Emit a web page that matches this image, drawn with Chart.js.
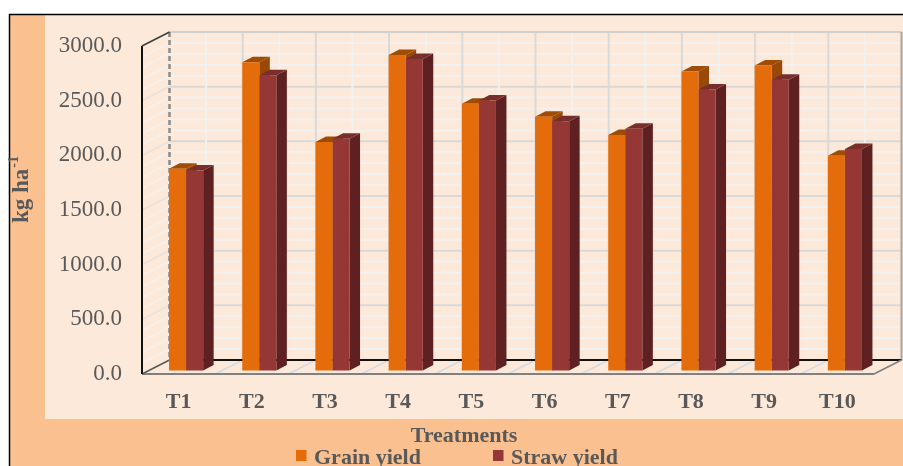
<!DOCTYPE html>
<html>
<head>
<meta charset="utf-8">
<title>Grain and straw yield by treatment</title>
<script src="https://cdn.jsdelivr.net/npm/chart.js@4.4.1/dist/chart.umd.min.js"></script>
<style>
  html, body { margin: 0; padding: 0; background: #ffffff; overflow: hidden; }
  canvas { display: block; }
</style>
</head>
<body>
<canvas id="yieldChart" width="903" height="466"></canvas>
<script>
// Treatments and yields (kg ha-1)
const categories = ['T1', 'T2', 'T3', 'T4', 'T5', 'T6', 'T7', 'T8', 'T9', 'T10'];
const grainYield = [1845, 2820, 2090, 2885, 2440, 2320, 2155, 2735, 2790, 1965];
const strawYield = [1830, 2700, 2120, 2850, 2470, 2280, 2210, 2570, 2660, 2025];
const seriesNames = ['Grain yield', 'Straw yield'];
const yAxisMin = 0;
const yAxisMax = 3000;
const yMajorStep = 500;
const yMinorStep = 100;

const SERIF = "'Liberation Serif', 'Times New Roman', serif";
const TEXT_GREY = '#595959';

// face colours per series: front, side, top
const FACES = [
  { front: '#E46C0A', side: '#9A4806', top: '#A04C05' },
  { front: '#953735', side: '#5F2022', top: '#782F2C' }
];

// geometry of the pseudo-3D box
const BOX_DEPTH = { dx: 27.5, dy: -14 };   // front plane -> back wall
const BAR_SHIFT = { dx: 7.5, dy: -3.5 };   // front plane -> bar front faces
const BAR_DEPTH = { dx: 10.5, dy: -5.5 };  // bar front face -> bar back

function line(ctx, x1, y1, x2, y2, color, width, dash) {
  ctx.save();
  ctx.beginPath();
  ctx.strokeStyle = color;
  ctx.lineWidth = width;
  ctx.setLineDash(dash || []);
  ctx.moveTo(x1, y1);
  ctx.lineTo(x2, y2);
  ctx.stroke();
  ctx.restore();
}

function poly(ctx, pts, color) {
  ctx.beginPath();
  ctx.moveTo(pts[0][0], pts[0][1]);
  for (let i = 1; i < pts.length; i++) ctx.lineTo(pts[i][0], pts[i][1]);
  ctx.closePath();
  ctx.fillStyle = color;
  ctx.fill();
}

const boxPlugin = {
  id: 'box3d',
  beforeDraw(chart) {
    const ctx = chart.ctx;
    const W = chart.width, H = chart.height;
    ctx.save();
    // panel backgrounds
    ctx.fillStyle = '#ffffff';
    ctx.fillRect(0, 0, W, H);
    ctx.fillStyle = '#FAC090';
    ctx.fillRect(10, 15, W - 10, H - 15);
    ctx.fillStyle = '#FDE9D9';
    ctx.fillRect(45, 15, W - 45, 404);
    line(ctx, 9, 14.5, W, 14.5, '#000000', 1.5);
    line(ctx, 9.5, 14, 9.5, H, '#000000', 1.5);

    const a = chart.chartArea;
    const ys = chart.scales.y, xs = chart.scales.x;
    const dx = BOX_DEPTH.dx, dy = BOX_DEPTH.dy;
    const fL = a.left, fR = a.right;
    const bL = fL + dx, bR = fR + dx;
    const y0 = ys.getPixelForValue(yAxisMin);
    const yTop = ys.getPixelForValue(yAxisMax);

    // horizontal grid on back wall and matching lines on the side wall
    for (let v = yAxisMin; v <= yAxisMax; v += yMinorStep) {
      const major = v % yMajorStep === 0;
      const yy = ys.getPixelForValue(v);
      const col = major ? '#D9D9D9' : '#F3F1EF';
      if (v > yAxisMin) {
        line(ctx, bL, yy + dy, bR, yy + dy, col, 2);
        line(ctx, fL, yy, bL, yy + dy, major ? '#E4E1DE' : '#F3F1EF', 1.5);
      }
    }
    // vertical grid on back wall: category centres (minor) and boundaries (major)
    const step = (fR - fL) / categories.length;
    for (let i = 0; i < categories.length; i++) {
      const c = xs.getPixelForValue(i) + dx;
      line(ctx, c, yTop + dy, c, y0 + dy, '#F3F1EF', 2);
    }
    for (let i = 1; i < categories.length; i++) {
      const b = fL + i * step;
      line(ctx, b + dx, yTop + dy, b + dx, y0 + dy, '#D9D9D9', 2);
      // floor lines running back from the front edge
      line(ctx, b, y0, b + dx, y0 + dy, '#D5DAE0', 1.5);
    }
    // wall edges
    line(ctx, bL, yTop + dy, bR, yTop + dy, '#D0D0D0', 2);
    line(ctx, bR, yTop + dy, bR, y0 + dy, '#A6A6A6', 2);
    line(ctx, bL, yTop + dy, bL, y0 + dy, '#8A8A8A', 2.5, [5, 3]);
    line(ctx, bL, y0 + dy, bR, y0 + dy, '#111111', 2);
    // floor front and sides
    line(ctx, fL, y0, fR, y0, '#808080', 2);
    line(ctx, fR, y0, bR, y0 + dy, '#808080', 1.5);
    line(ctx, fL, y0, bL, y0 + dy, '#595959', 1.5);
    // front vertical axis and its top edge
    line(ctx, fL, yTop, fL, y0, '#111111', 2);
    line(ctx, fL, yTop, bL, yTop + dy, '#404040', 1.5);
    ctx.restore();
  },
  beforeDatasetsDraw(chart) {
    const ctx = chart.ctx;
    ctx.save();
    ctx.translate(BAR_SHIFT.dx, BAR_SHIFT.dy);
    // side and top faces; the library paints the front faces afterwards
    chart.data.datasets.forEach((ds, di) => {
      const meta = chart.getDatasetMeta(di);
      meta.data.forEach(bar => {
        const p = bar.getProps(['x', 'y', 'base', 'width'], true);
        const l = p.x - p.width / 2, r = p.x + p.width / 2;
        const t = Math.min(p.y, p.base), b = Math.max(p.y, p.base);
        const ddx = BAR_DEPTH.dx, ddy = BAR_DEPTH.dy;
        poly(ctx, [[r, t], [r + ddx, t + ddy], [r + ddx, b + ddy], [r, b]], FACES[di].side);
        poly(ctx, [[l, t], [l + ddx, t + ddy], [r + ddx, t + ddy], [r, t]], FACES[di].top);
      });
    });
  },
  afterDatasetsDraw(chart) {
    chart.ctx.restore();
  },
  afterDraw(chart) {
    const ctx = chart.ctx;
    ctx.save();
    ctx.fillStyle = TEXT_GREY;
    // x axis title
    ctx.font = 'bold 22px ' + SERIF;
    ctx.textAlign = 'center';
    ctx.textBaseline = 'middle';
    ctx.fillText('Treatments', 464, 436);

    // y axis title with superscript
    ctx.save();
    ctx.translate(21, 190);
    ctx.rotate(-Math.PI / 2);
    ctx.font = 'bold 23px ' + SERIF;
    const main = 'kg ha';
    const wMain = ctx.measureText(main).width;
    ctx.font = 'bold 14px ' + SERIF;
    const sup = '-1';
    const wSup = ctx.measureText(sup).width;
    const start = -(wMain + wSup) / 2;
    ctx.textAlign = 'left';
    ctx.textBaseline = 'alphabetic';
    ctx.font = 'bold 23px ' + SERIF;
    ctx.fillText(main, start, 7);
    ctx.font = 'bold 14px ' + SERIF;
    ctx.fillText(sup, start + wMain + 1, -3);
    ctx.restore();

    // legend
    const items = [
      { x: 296, text: seriesNames[0], color: FACES[0].front },
      { x: 493, text: seriesNames[1], color: FACES[1].front }
    ];
    ctx.font = 'bold 22px ' + SERIF;
    ctx.textAlign = 'left';
    ctx.textBaseline = 'alphabetic';
    items.forEach(it => {
      ctx.fillStyle = it.color;
      ctx.fillRect(it.x, 450, 10.5, 11);
      ctx.fillStyle = TEXT_GREY;
      ctx.fillText(it.text, it.x + 18, 464);
    });
    ctx.restore();
  }
};

new Chart(document.getElementById('yieldChart'), {
  type: 'bar',
  data: {
    labels: categories,
    datasets: [
      { label: seriesNames[0], data: grainYield, backgroundColor: FACES[0].front, borderWidth: 0, clip: false },
      { label: seriesNames[1], data: strawYield, backgroundColor: FACES[1].front, borderWidth: 0, clip: false }
    ]
  },
  options: {
    responsive: false,
    devicePixelRatio: 1,
    animation: false,
    layout: { padding: { left: 0, top: 46, right: 29, bottom: 0 } },
    datasets: { bar: { categoryPercentage: 0.466, barPercentage: 1.0 } },
    plugins: {
      legend: { display: false },
      tooltip: { enabled: false }
    },
    scales: {
      x: {
        grid: { display: false },
        border: { display: false },
        ticks: {
          color: TEXT_GREY,
          font: { family: SERIF, size: 22, weight: 'bold' },
          padding: 7,
          maxRotation: 0
        },
        afterFit(scale) { scale.height = 92; }
      },
      y: {
        min: yAxisMin,
        max: yAxisMax,
        grid: { display: false },
        border: { display: false },
        ticks: {
          stepSize: yMajorStep,
          color: TEXT_GREY,
          font: { family: SERIF, size: 23 },
          padding: 12,
          callback: v => Number(v).toFixed(1)
        },
        afterFit(scale) { scale.width = 142; }
      }
    }
  },
  plugins: [boxPlugin]
});
</script>
</body>
</html>
